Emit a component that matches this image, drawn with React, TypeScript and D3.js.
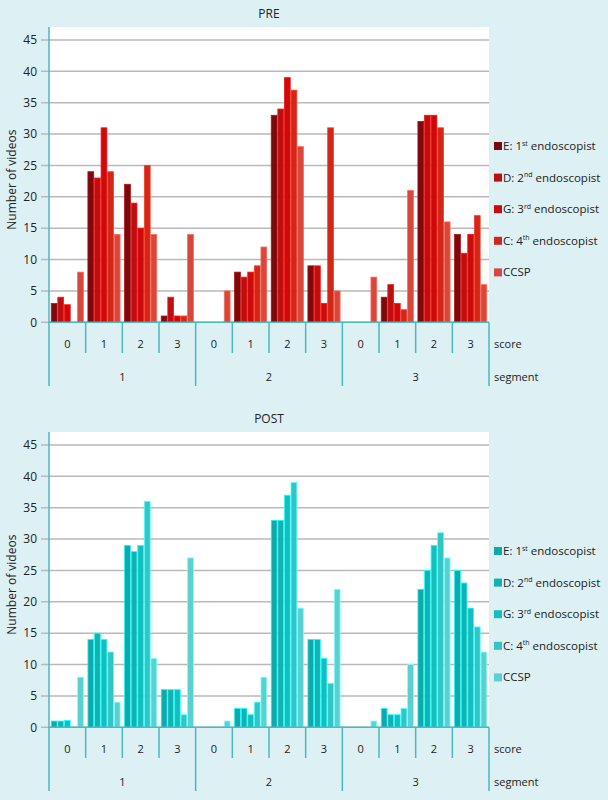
import React from "react";
import * as d3 from "d3";

const segments = ["1", "2", "3"];
const scores = ["0", "1", "2", "3"];
const seriesNames = ["E", "D", "G", "C", "CCSP"];
const legendLabels: [string, string, string][] = [
  ["E: 1", "st", " endoscopist"],
  ["D: 2", "nd", " endoscopist"],
  ["G: 3", "rd", " endoscopist"],
  ["C: 4", "th", " endoscopist"],
  ["CCSP", "", ""],
];
const yTicks = [0, 5, 10, 15, 20, 25, 30, 35, 40, 45];

// values per group (segment x score), in order E, D, G, C, CCSP
const preE = [3, 24, 22, 1, 0, 8, 33, 9, 0, 4, 32, 14];
const preD = [4, 23, 19, 4, 0, 7.2, 34, 9, 0, 6, 33, 11];
const preG = [2.8, 31, 15, 1, 0, 8, 39, 3, 0, 3, 33, 14];
const preC = [0, 24, 25, 1, 0, 9, 37, 31, 0, 2, 31, 17];
const preCCSP = [8, 14, 14, 14, 5, 12, 28, 5, 7.2, 21, 16, 6];

const postE = [1, 14, 29, 6, 0, 3, 33, 14, 0, 3, 22, 25];
const postD = [1, 15, 28, 6, 0, 3, 33, 14, 0, 2, 25, 23];
const postG = [1.1, 14, 29, 6, 0, 2, 37, 11, 0, 2, 29, 19];
const postC = [0, 12, 36, 2, 0, 4, 39, 7, 0, 3, 31, 16];
const postCCSP = [8, 4, 11, 27, 1, 8, 19, 22, 1, 10, 27, 12];

const preColors = ["#7a0a0c", "#bb0f10", "#c90b0b", "#d02718", "#d8473b"];
const postColors = ["#12a7a8", "#14b1b2", "#17bcbd", "#33c4c5", "#5ad0d1"];

const W = 608;
const H = 800;
const plotL = 49;
const plotR = 489;
const plotTop = 27;
const y0px = 322.3;
const y45px = 40;
const teal = "#4bb9c0";
const font = "'Open Sans', 'Noto Sans', sans-serif";

function Panel({ title, data, colors, dy }: { title: string; data: number[][]; colors: string[]; dy: number }) {
  const groups = segments.flatMap((s) => scores.map((sc) => `${s}-${sc}`));
  const x = d3.scaleBand<string>().domain(groups).range([plotL, plotR]).padding(0);
  const inner = d3.scaleBand<string>().domain(seriesNames).range([0, x.bandwidth()]).paddingOuter(0.28).paddingInner(0);
  const y = d3.scaleLinear().domain([0, 45]).range([y0px, y45px]);
  const segX = d3.scaleBand<string>().domain(segments).range([plotL, plotR]);
  return (
    <g transform={`translate(0,${dy})`}>
      <text x={(plotL + plotR) / 2} y={18} textAnchor="middle" fontSize={12} fontFamily={font} fill="#222">{title}</text>
      <rect x={plotL} y={plotTop} width={plotR - plotL} height={y0px - plotTop} fill="#ffffff" />
      {yTicks.map((t) => (
        <g key={t}>
          <line x1={41} x2={plotR} y1={y(t)} y2={y(t)} stroke="#b9b9b9" strokeWidth={1.5} />
          <text x={37} y={y(t) + 4.2} textAnchor="end" fontSize={12} fontFamily={font} fill="#222">{t}</text>
        </g>
      ))}
      <text transform={`translate(16,${(plotTop + y0px) / 2 + 5}) rotate(-90)`} textAnchor="middle" fontSize={12} fontFamily={font} fill="#222">Number of videos</text>
      {groups.map((g, gi) => (
        <g key={g} transform={`translate(${x(g)},0)`}>
          {seriesNames.map((s, si) => {
            const v = data[si][gi];
            if (v <= 0) return null;
            const c = colors[si];
            const light = d3.color(c)!.brighter(1.1).formatHex();
            return (
              <rect key={s} x={(inner(s) as number) + 0.4} y={y(v)} width={inner.bandwidth() - 0.8} height={y0px - y(v)} fill={c} stroke={light} strokeWidth={0.8} />
            );
          })}
        </g>
      ))}
      <line x1={plotL} x2={plotR} y1={y0px} y2={y0px} stroke={teal} strokeWidth={1.5} />
      <line x1={plotL} x2={plotL} y1={plotTop} y2={386} stroke={teal} strokeWidth={1.5} />
      {groups.map((g, gi) => {
        const xx = (x(g) as number) + x.bandwidth();
        const isSeg = (gi + 1) % scores.length === 0;
        return <line key={"d" + g} x1={xx} x2={xx} y1={y0px} y2={isSeg ? 386 : 353} stroke={teal} strokeWidth={1.5} />;
      })}
      {groups.map((g, gi) => (
        <text key={"s" + g} x={(x(g) as number) + x.bandwidth() / 2} y={348} textAnchor="middle" fontSize={11} fontFamily={font} fill="#222">{scores[gi % scores.length]}</text>
      ))}
      {segments.map((s) => (
        <text key={"g" + s} x={(segX(s) as number) + segX.bandwidth() / 2} y={381} textAnchor="middle" fontSize={11} fontFamily={font} fill="#222">{s}</text>
      ))}
      <text x={494} y={348} fontSize={11} fontFamily={font} fill="#222">score</text>
      <text x={494} y={381} fontSize={11} fontFamily={font} fill="#222">segment</text>
      {legendLabels.map((l, i) => {
        const ly = 146 + i * 31.6;
        return (
          <g key={"l" + i}>
            <rect x={494} y={ly - 4} width={8} height={8} fill={colors[i]} />
            <text x={503} y={ly + 4} fontSize={11.5} fontFamily={font} fill="#222">
              {l[0]}
              {l[1] && <tspan fontSize={7} dy={-4.5}>{l[1]}</tspan>}
              {l[2] && <tspan dy={l[1] ? 4.5 : 0}>{l[2]}</tspan>}
            </text>
          </g>
        );
      })}
    </g>
  );
}

export default function App() {
  const pre = [preE, preD, preG, preC, preCCSP];
  const post = [postE, postD, postG, postC, postCCSP];
  return (
    <svg width={W} height={H} style={{ position: "absolute", left: 0, top: 0, background: "#ddf0f4" }}>
      <rect x={0} y={0} width={W} height={H} fill="#ddf0f4" />
      <Panel title="PRE" data={pre} colors={preColors} dy={0} />
      <Panel title="POST" data={post} colors={postColors} dy={405} />
    </svg>
  );
}
